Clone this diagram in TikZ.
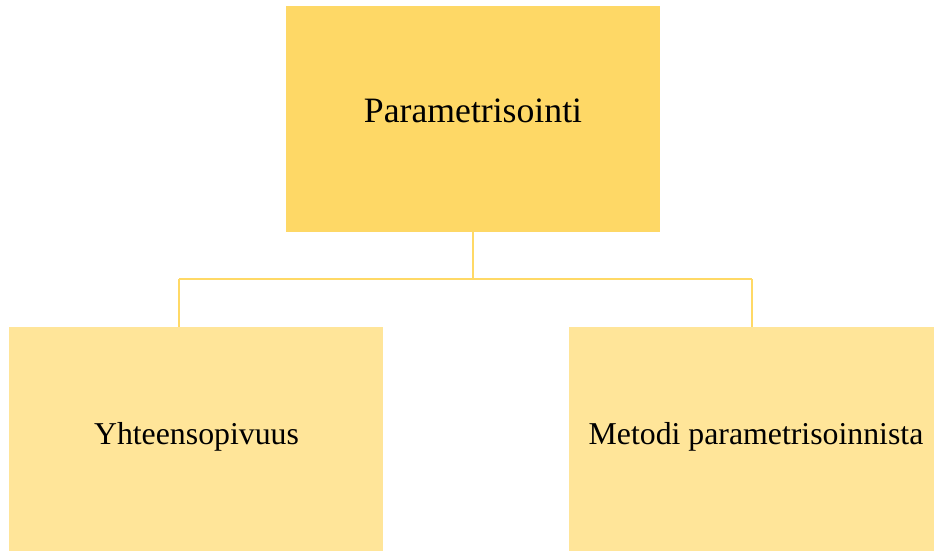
\documentclass[tikz,border=0pt]{standalone}
\usepackage{fontspec}
\setmainfont{Liberation Serif}
\definecolor{goldtop}{HTML}{FED866}
\definecolor{goldlight}{HTML}{FFE599}
\definecolor{linkgold}{HTML}{FFD966}
\tikzset{
  box/.style={inner sep=0pt, outer sep=0pt, draw=none, anchor=north west},
  toplabel/.style={anchor=base, inner sep=0pt, font=\fontsize{35.7}{40}\selectfont},
  sublabel/.style={anchor=base, inner sep=0pt, font=\fontsize{31.8}{36}\selectfont},
  conn/.style={draw=linkgold, line width=2.4pt}
}
\begin{document}
\begin{tikzpicture}[x=1pt,y=-1pt]
  \useasboundingbox (0,0) rectangle (934,551);
  % boxes
  \node[box, fill=goldtop, minimum width=374pt, minimum height=226pt] (top) at (286,6) {};
  \node[box, fill=goldlight, minimum width=374pt, minimum height=224pt] (left) at (9,327) {};
  \node[box, fill=goldlight, minimum width=365pt, minimum height=224pt] (right) at (569,327) {};
  % labels
  \node[toplabel] (ttop) at (473,122) {Parametrisointi};
  \node[sublabel] (tleft) at (196.5,444) {Yhteensopivuus};
  \node[sublabel] (tright) at (756,444) {Metodi parametrisoinnista};
  % connectors
  \coordinate (hub) at (473,279);
  \coordinate (jl) at (179,279);
  \coordinate (jr) at (752,279);
  \draw[conn] (top.south) -- (hub);
  \draw[conn] (jl) -- (jr);
  \draw[conn] (jl) -- (jl |- left.north);
  \draw[conn] (jr) -- (jr |- right.north);
\end{tikzpicture}
\end{document}
